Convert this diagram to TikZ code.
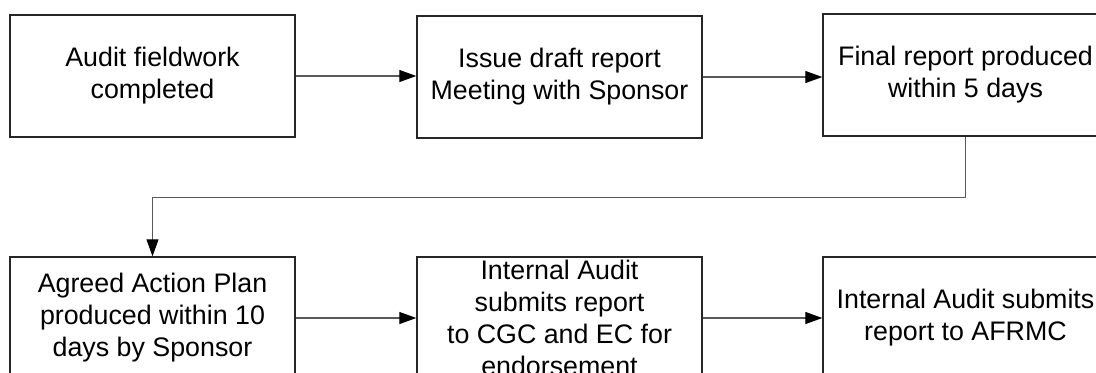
\documentclass[tikz,border=0pt]{standalone}
\usepackage{fontspec}
\setmainfont{Liberation Sans}
\usetikzlibrary{arrows.meta}

\begin{document}
\begin{tikzpicture}[x=0.5pt,y=-0.5pt,
  box/.style={draw=black!85,line width=0.7pt,minimum width=142.5pt,minimum height=61pt,inner sep=0pt},
  txt/.style={align=center,inner sep=0pt,font=\fontsize{13.4}{16}\selectfont},
  conn/.style={draw=black!65,line width=0.55pt,-{Triangle[length=8.5pt,width=6pt,color=black]}}]
\useasboundingbox (0,0) rectangle (1096,372);
\clip (0,0) rectangle (1096,372);
\node[box] (fieldwork) at (152.5,76) {};
\node[box] (draft) at (559.5,77) {};
\node[box] (final) at (965.5,75) {};
\node[box] (plan) at (152.5,318) {};
\node[box] (cgc) at (559.5,318) {};
\node[box] (afrmc) at (965.5,318) {};
\node[txt] (fieldworktxt) at (fieldwork) {Audit fieldwork\\completed};
\node[txt] (drafttxt) at (draft) {Issue draft report\\Meeting with Sponsor};
\node[txt] (finaltxt) at (final) {Final report produced\\within 5 days};
\node[txt] (plantxt) at (plan) {Agreed Action Plan\\produced within 10\\days by Sponsor};
\node[txt] (cgctxt) at (cgc) {Internal Audit\\submits report\\to CGC and EC for\\endorsement};
\node[txt] (afrmctxt) at (afrmc) {Internal Audit submits\\report to AFRMC};
\draw[conn] (fieldwork.east) -- (fieldwork.east -| draft.west);
\draw[conn] (draft.east) -- (draft.east -| final.west);
\draw[conn] (final.south) -- ++(0,61) -| (plan.north);
\draw[conn] (plan) -- (cgc);
\draw[conn] (cgc) -- (afrmc);
\end{tikzpicture}
\end{document}
